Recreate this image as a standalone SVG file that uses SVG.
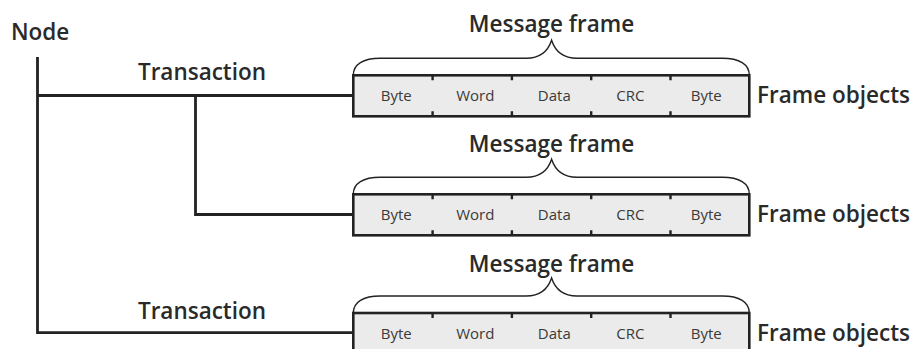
<svg xmlns="http://www.w3.org/2000/svg" width="923" height="349" viewBox="0 0 923 349">
  <style>
    .title { font-family: "Open Sans", "Liberation Sans", sans-serif; font-weight: 600; font-size: 22.5px; fill: #2a2a2a; }
    .cell { font-family: "Open Sans", "Liberation Sans", sans-serif; font-size: 15px; fill: #3a3a3a; text-anchor: middle; }
    .frame { fill: #ebebeb; stroke: #222; stroke-width: 2.6; }
    .tick { stroke: #222; stroke-width: 2.4; }
    .brace { fill: none; stroke: #222; stroke-width: 1.4; }
    .wire { fill: none; stroke: #222; stroke-width: 2.8; }
  </style>
  <defs>
    <!-- one message frame: brace, five-cell box and its labels; origin at box top-left -->
    <g id="frameRow">
      <path class="brace" d="M0,0 C0,-11 10,-17 27,-17 L173,-17 C187,-17 195,-25 198.3,-35 C201.6,-25 209.6,-17 223.6,-17 L369,-17 C386,-17 396,-11 396,0"/>
      <rect class="frame" x="0" y="0" width="396" height="41"/>
      <path class="tick" d="M79.3,0 v5 M79.3,41 v-5 M158.6,0 v5 M158.6,41 v-5 M237.9,0 v5 M237.9,41 v-5 M317.2,0 v5 M317.2,41 v-5"/>
      <text class="cell" x="43" y="26">Byte</text>
      <text class="cell" x="122" y="26">Word</text>
      <text class="cell" x="201" y="26">Data</text>
      <text class="cell" x="277" y="26">CRC</text>
      <text class="cell" x="353" y="26">Byte</text>
    </g>
  </defs>

  <!-- connectors: node bus and transaction branches -->
  <g id="connectors">
    <path class="wire" d="M37.5,57 V332.7 H353.3"/>
    <path class="wire" d="M37.5,95.5 H353.3"/>
    <path class="wire" d="M195.5,95.5 V214.5 H353.3"/>
  </g>

  <g id="node">
    <text class="title" x="11" y="40">Node</text>
  </g>

  <g id="transaction1">
    <text class="title" x="202" y="80" text-anchor="middle">Transaction</text>
  </g>
  <g id="transaction2">
    <text class="title" x="202" y="319" text-anchor="middle">Transaction</text>
  </g>

  <g id="frame1">
    <text class="title" x="551.5" y="32" text-anchor="middle">Message frame</text>
    <use href="#frameRow" x="353.3" y="75.3"/>
    <text class="title" x="757" y="103">Frame objects</text>
  </g>
  <g id="frame2">
    <text class="title" x="551.5" y="152" text-anchor="middle">Message frame</text>
    <use href="#frameRow" x="353.3" y="194.3"/>
    <text class="title" x="757" y="222">Frame objects</text>
  </g>
  <g id="frame3">
    <text class="title" x="551.5" y="272" text-anchor="middle">Message frame</text>
    <use href="#frameRow" x="353.3" y="313"/>
    <text class="title" x="757" y="341">Frame objects</text>
  </g>
</svg>
